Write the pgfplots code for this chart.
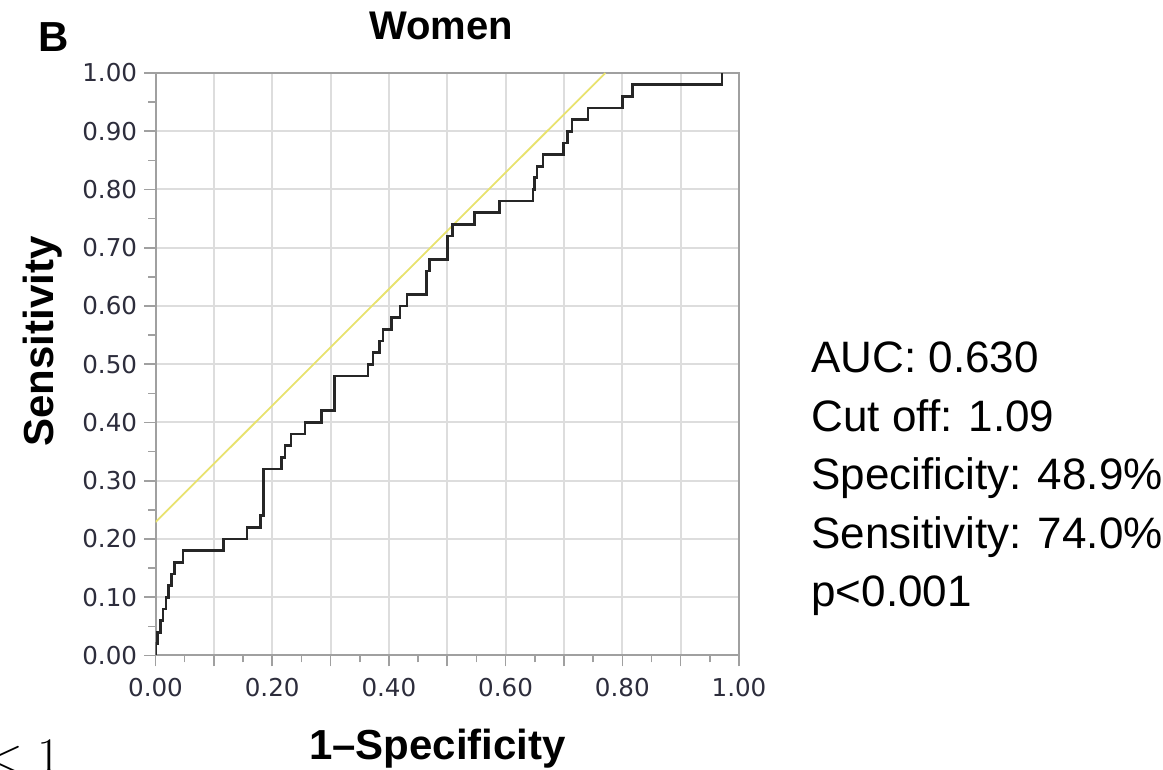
\documentclass[border=0pt]{standalone}
\usepackage[no-math]{fontspec}
\setmainfont{Liberation Sans}
\newfontfamily\tickfont{DejaVu Sans}
\usepackage{pgfplots}
\pgfplotsset{compat=1.18}

\definecolor{gridgray}{RGB}{221,221,221}
\definecolor{framegray}{RGB}{160,160,160}
\definecolor{tangent}{RGB}{232,226,110}
\definecolor{roc}{RGB}{38,38,38}
\definecolor{ticktext}{RGB}{45,45,60}

\begin{document}
\begin{tikzpicture}[x=0.5pt,y=0.5pt]
\path[use as bounding box] (0,0) rectangle (1163,770);
\begin{axis}[
  at={(77.75pt,57.25pt)}, anchor=south west,
  scale only axis, width=291.75pt, height=291.25pt,
  xmin=0, xmax=1, ymin=0, ymax=1,
  xtick={0,0.1,0.2,0.3,0.4,0.5,0.6,0.7,0.8,0.9,1},
  ytick={0,0.1,0.2,0.3,0.4,0.5,0.6,0.7,0.8,0.9,1},
  xticklabels={0.00,,0.20,,0.40,,0.60,,0.80,,1.00},
  yticklabels={0.00,0.10,0.20,0.30,0.40,0.50,0.60,0.70,0.80,0.90,1.00},
  minor x tick num=1, minor y tick num=1,
  tick align=outside, tick pos=left,
  major tick length=5.5pt, minor tick length=3.5pt,
  every tick/.style={framegray, line width=0.8pt},
  axis line style={framegray, line width=1pt},
  grid=major, major grid style={gridgray, line width=1pt},
  ticklabel style={font=\tickfont\fontsize{12.3}{13}\selectfont, text=ticktext},
  yticklabel style={inner sep=0pt, xshift=-3.5pt},
  xticklabel style={inner sep=0pt, yshift=-5.5pt},
  title={Women},
  title style={font=\bfseries\fontsize{20}{24}\selectfont, anchor=base,
    at={(axis description cs:0.5,1)}, yshift=10.5pt, xshift=-3pt},
  xlabel={1–Specificity},
  xlabel style={font=\bfseries\fontsize{21}{24}\selectfont, anchor=base,
    at={(axis description cs:0.4833,-0.1794)}},
  ylabel={Sensitivity},
  ylabel style={font=\bfseries\fontsize{21}{24}\selectfont, anchor=base,
    at={(axis description cs:-0.175,0.539)}},
]
% tangent line at the optimal cut-off (slope 1 through (0.511, 0.740))
\addplot[tangent, line width=0.9pt] coordinates {(0,0.229) (0.771,1)};
% empirical ROC curve
\addplot[roc, line width=1.35pt] coordinates {
(0,0) (0,0.02) (0.004,0.02) (0.004,0.04) (0.008,0.04) (0.008,0.06)
(0.013,0.06) (0.013,0.08) (0.018,0.08) (0.018,0.10) (0.022,0.10) (0.022,0.12)
(0.028,0.12) (0.028,0.14) (0.033,0.14) (0.033,0.16) (0.047,0.16) (0.047,0.18)
(0.117,0.18) (0.117,0.20) (0.157,0.20) (0.157,0.22) (0.180,0.22) (0.180,0.24)
(0.185,0.24) (0.185,0.32) (0.216,0.32) (0.216,0.34) (0.222,0.34) (0.222,0.36)
(0.232,0.36) (0.232,0.38) (0.256,0.38) (0.256,0.40) (0.285,0.40) (0.285,0.42)
(0.307,0.42) (0.307,0.48) (0.364,0.48) (0.364,0.50) (0.373,0.50) (0.373,0.52)
(0.384,0.52) (0.384,0.54) (0.390,0.54) (0.390,0.56) (0.404,0.56) (0.404,0.58)
(0.419,0.58) (0.419,0.60) (0.431,0.60) (0.431,0.62) (0.465,0.62) (0.465,0.66)
(0.470,0.66) (0.470,0.68) (0.501,0.68) (0.501,0.72) (0.509,0.72) (0.509,0.74)
(0.547,0.74) (0.547,0.76) (0.589,0.76) (0.589,0.78) (0.647,0.78) (0.647,0.80)
(0.650,0.80) (0.650,0.82) (0.654,0.82) (0.654,0.84) (0.664,0.84) (0.664,0.86)
(0.699,0.86) (0.699,0.88) (0.706,0.88) (0.706,0.90) (0.714,0.90) (0.714,0.92)
(0.741,0.92) (0.741,0.94) (0.800,0.94) (0.800,0.96) (0.818,0.96) (0.818,0.98)
(0.971,0.98) (0.971,1.00)
};
\end{axis}
% panel letter
\node[anchor=base west, inner sep=0pt, font=\bfseries\fontsize{21}{24}\selectfont] at (38,718) {B};
% summary statistics
\begin{scope}[every node/.style={anchor=base west, inner sep=0pt, font=\fontsize{22}{24}\selectfont}]
\node at (811,397) {AUC: 0.630};
\node at (811,338.5) {Cut off: 1.09};
\node at (811,280) {Specificity: 48.9\%};
\node at (811,221.5) {Sensitivity: 74.0\%};
\node at (811,163) {p<0.001};
\end{scope}
% fragment of the neighbouring panel's caption
\node[anchor=base west, inner sep=0pt, font=\fontsize{29}{31}\selectfont] at (-15,-3) {$<1$};
\end{tikzpicture}
\end{document}
